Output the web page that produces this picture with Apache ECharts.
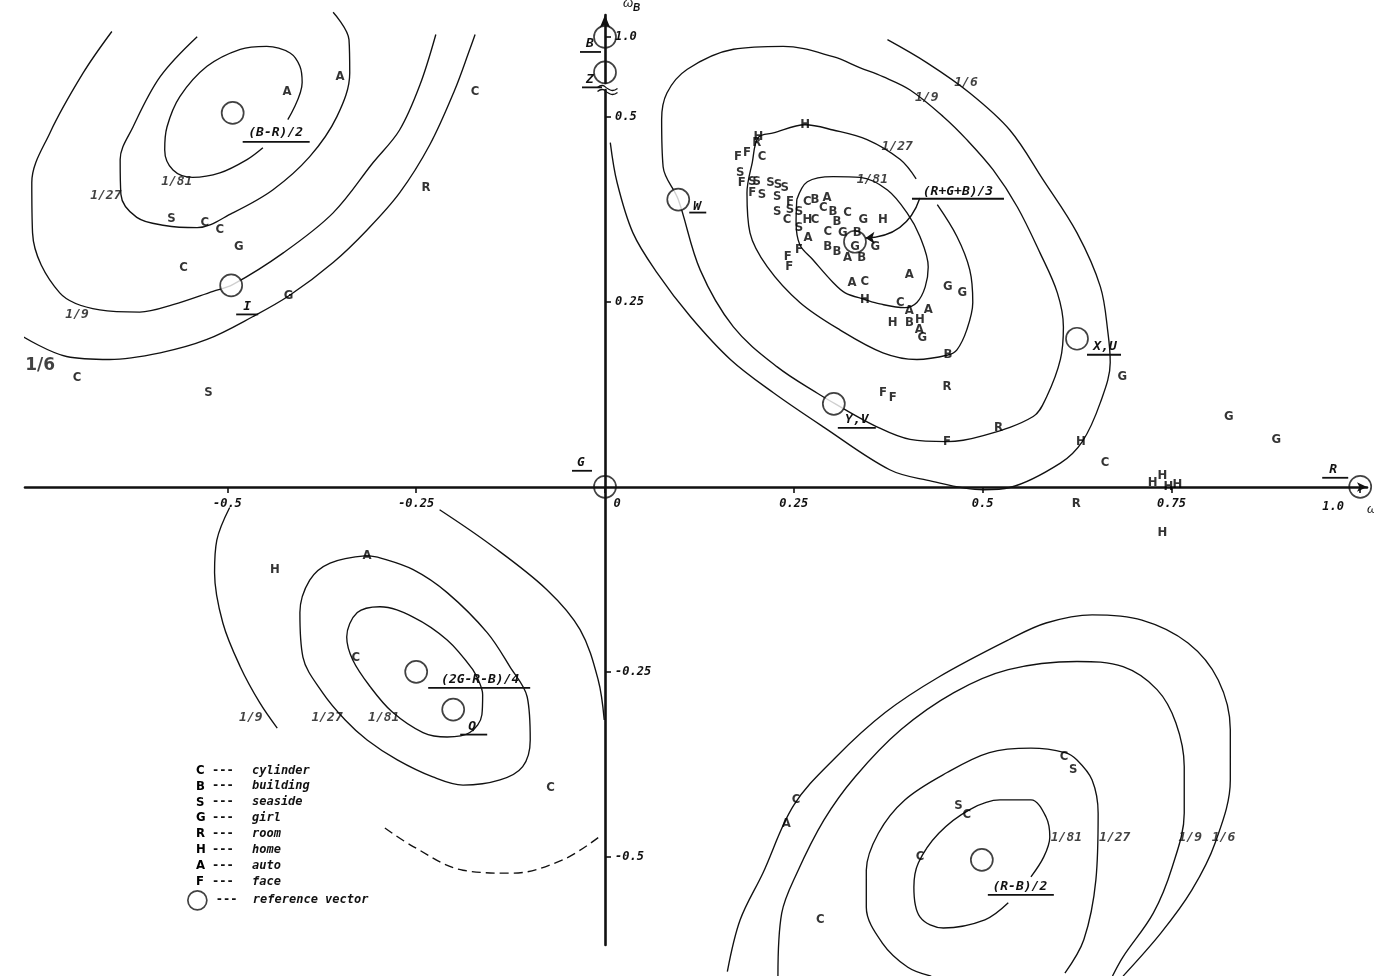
<!DOCTYPE html>
<html>
<head>
<meta charset="utf-8">
<title>Reference vectors and contours</title>
<script src="https://cdn.jsdelivr.net/npm/echarts@6.0.0/dist/echarts.min.js"></script>
<style>
html,body{margin:0;padding:0;background:#fff;}
#chart{width:1374px;height:976px;}
</style>
</head>
<body>
<div id="chart"></div>
<script>
// ---- tick values ----
const xTicks = [-0.5, -0.25, 0, 0.25, 0.5, 0.75, 1.0];
const yTicks = [-0.5, -0.25, 0.25, 0.5];
const yTicksTop = [1.0];

// ---- sample letters ----
const cylinderPts = [[-0.172,0.534],[-0.530,0.357],[-0.510,0.347],[-0.558,0.296],[-0.699,0.147],
  [0.208,0.446],[0.268,0.385],[0.241,0.361],[0.278,0.361],[0.289,0.377],[0.321,0.370],[0.295,0.345],
  [0.344,0.277],[0.391,0.249],[0.662,0.032],[-0.330,-0.231],[-0.072,-0.407],
  [0.253,-0.423],[0.608,-0.365],[0.479,-0.443],[0.417,-0.500],[0.285,-0.585]];
const buildingPts = [[0.278,0.388],[0.302,0.372],[0.307,0.358],[0.334,0.343],[0.295,0.324],
  [0.307,0.318],[0.340,0.309],[0.403,0.222],[0.454,0.178]];
const seasidePts = [[-0.574,0.362],[-0.525,0.127],[0.179,0.424],[0.195,0.412],[0.201,0.412],
  [0.208,0.395],[0.219,0.411],[0.229,0.408],[0.238,0.404],[0.228,0.392],[0.228,0.372],[0.245,0.374],
  [0.257,0.372],[0.257,0.350],[0.620,-0.382],[0.468,-0.431]];
const girlPts = [[-0.485,0.324],[-0.419,0.258],[0.342,0.361],[0.315,0.343],[0.331,0.324],[0.358,0.324],
  [0.420,0.201],[0.454,0.270],[0.473,0.262],[0.685,0.149],[0.826,0.095],[0.889,0.064]];
const roomPts = [[-0.237,0.404],[0.201,0.465],[0.453,0.135],[0.521,0.080],[0.624,-0.023]];
const homePts = [[0.203,0.473],[0.265,0.489],[0.268,0.361],[0.368,0.361],[0.344,0.253],[0.381,0.222],
  [0.417,0.226],[0.630,0.061],[0.725,0.005],[0.738,0.015],[0.746,0.000],[0.758,0.003],[0.738,-0.062],
  [-0.437,-0.112]];
const autoPts = [[-0.421,0.534],[-0.351,0.554],[0.294,0.391],[0.269,0.336],[0.321,0.309],[0.403,0.286],
  [0.327,0.276],[0.403,0.238],[0.428,0.239],[0.416,0.212],[-0.315,-0.093],[0.240,-0.455]];
const facePts = [[0.176,0.446],[0.188,0.451],[0.181,0.411],[0.195,0.397],[0.245,0.385],[0.257,0.320],
  [0.242,0.311],[0.244,0.297],[0.368,0.127],[0.381,0.120],[0.453,0.061]];

const categories = [
  {name: 'cylinder', letter: 'C', pts: cylinderPts},
  {name: 'building', letter: 'B', pts: buildingPts},
  {name: 'seaside', letter: 'S', pts: seasidePts},
  {name: 'girl', letter: 'G', pts: girlPts},
  {name: 'room', letter: 'R', pts: roomPts},
  {name: 'home', letter: 'H', pts: homePts},
  {name: 'auto', letter: 'A', pts: autoPts},
  {name: 'face', letter: 'F', pts: facePts}
];

// ---- reference vectors ----
const refNames = ['(B-R)/2','I','W','Y,V','X,U','(R+G+B)/3','(2G-R-B)/4','Q','(R-B)/2','G','R'];
const refPoints = [[-0.493,0.505],[-0.495,0.272],[0.097,0.388],[0.303,0.112],[0.625,0.200],
  [0.331,0.331],[-0.250,-0.250],[-0.201,-0.301],[0.499,-0.504],[0,0],[1.0,0]];
const refNamesTop = ['B','Z'];
const refPointsTop = [[0,1.0],[0,0.95]];
const onAxisRefs = ['G','R','B','Z','(R+G+B)/3'];

// arrow from (R+G+B)/3 label to its circle
const arrowCoords = [[0.417,0.390],[0.345,0.336]];

// ---- contours (top-right family, around (R+G+B)/3) ----
const trC81 = [[0.254,0.388],[0.268,0.412],[0.302,0.419],[0.338,0.418],[0.374,0.401],[0.400,0.370],
  [0.417,0.338],[0.428,0.297],[0.424,0.270],[0.413,0.249],[0.397,0.242],[0.364,0.247],[0.344,0.253],
  [0.318,0.262],[0.302,0.276],[0.275,0.307],[0.258,0.327],[0.253,0.358],[0.254,0.388]];
const trC27 = [[0.440,0.381],[0.466,0.338],[0.483,0.293],[0.487,0.249],[0.479,0.212],[0.466,0.185],
  [0.454,0.178],[0.413,0.172],[0.368,0.181],[0.311,0.212],[0.258,0.249],[0.215,0.297],[0.192,0.343],
  [0.188,0.397],[0.195,0.438],[0.203,0.472],[0.223,0.478],[0.265,0.489],[0.302,0.482],[0.347,0.469],
  [0.391,0.442],[0.412,0.416]];
const trC9 = [[0.305,0.112],[0.360,0.081],[0.404,0.064],[0.453,0.061],[0.497,0.068],[0.567,0.095],
  [0.585,0.122],[0.603,0.172],[0.607,0.216],[0.599,0.262],[0.576,0.316],[0.546,0.378],[0.514,0.428],
  [0.479,0.469],[0.448,0.500],[0.404,0.536],[0.368,0.554],[0.338,0.566],[0.302,0.581],[0.236,0.595],
  [0.170,0.591],[0.109,0.564],[0.082,0.532],[0.075,0.496],[0.077,0.432],[0.097,0.388],[0.126,0.293],
  [0.170,0.216],[0.228,0.162],[0.285,0.124],[0.305,0.112]];
const trC6 = [[0.374,0.604],[0.426,0.573],[0.483,0.532],[0.536,0.482],[0.580,0.415],[0.625,0.343],
  [0.656,0.270],[0.666,0.208],[0.669,0.168],[0.656,0.114],[0.632,0.061],[0.603,0.032],[0.536,-0.001],
  [0.501,-0.004],[0.426,0.009],[0.377,0.023],[0.289,0.081],[0.223,0.127],[0.166,0.172],[0.113,0.230],
  [0.069,0.289],[0.037,0.343],[0.016,0.411],[0.007,0.465]];

// top-left family, around (B-R)/2
const tlC81 = [[-0.420,0.496],[-0.401,0.546],[-0.404,0.568],[-0.417,0.586],[-0.448,0.595],[-0.483,0.591],
  [-0.527,0.568],[-0.563,0.527],[-0.580,0.486],[-0.583,0.455],[-0.572,0.428],[-0.546,0.418],
  [-0.510,0.424],[-0.474,0.442],[-0.453,0.458]];
const tlC27 = [[-0.540,0.608],[-0.589,0.554],[-0.625,0.486],[-0.642,0.442],[-0.641,0.395],[-0.620,0.364],
  [-0.583,0.353],[-0.540,0.350],[-0.493,0.370],[-0.440,0.401],[-0.391,0.446],[-0.355,0.500],
  [-0.338,0.559],[-0.339,0.604],[-0.360,0.641]];
const tlC9 = [[-0.653,0.615],[-0.691,0.559],[-0.735,0.478],[-0.759,0.411],[-0.758,0.343],[-0.722,0.262],
  [-0.669,0.239],[-0.616,0.236],[-0.572,0.246],[-0.519,0.264],[-0.493,0.273],[-0.426,0.316],
  [-0.360,0.370],[-0.307,0.438],[-0.272,0.482],[-0.245,0.543],[-0.224,0.611]];
const tlC6 = [[-0.771,0.203],[-0.713,0.176],[-0.656,0.172],[-0.589,0.181],[-0.527,0.199],[-0.466,0.230],
  [-0.417,0.259],[-0.360,0.303],[-0.315,0.347],[-0.272,0.397],[-0.232,0.462],[-0.199,0.536],
  [-0.179,0.591],[-0.172,0.611]];

// bottom-left family, around (2G-R-B)/4
const blC81 = [[-0.175,-0.247],[-0.209,-0.207],[-0.254,-0.176],[-0.298,-0.162],[-0.328,-0.170],
  [-0.342,-0.203],[-0.334,-0.234],[-0.311,-0.270],[-0.282,-0.304],[-0.241,-0.332],[-0.209,-0.338],
  [-0.179,-0.332],[-0.163,-0.308],[-0.162,-0.281],[-0.175,-0.247]];
const blC27 = [[-0.315,-0.093],[-0.364,-0.103],[-0.391,-0.126],[-0.404,-0.170],[-0.400,-0.230],
  [-0.374,-0.278],[-0.344,-0.315],[-0.315,-0.342],[-0.275,-0.369],[-0.228,-0.392],[-0.188,-0.403],
  [-0.139,-0.396],[-0.109,-0.378],[-0.099,-0.342],[-0.103,-0.284],[-0.126,-0.243],[-0.156,-0.197],
  [-0.209,-0.143],[-0.254,-0.112],[-0.298,-0.096],[-0.315,-0.093]];
const blC9Left = [[-0.497,-0.028],[-0.514,-0.072],[-0.517,-0.116],[-0.506,-0.184],[-0.483,-0.243],
  [-0.457,-0.292],[-0.434,-0.326]];
const blC9Right = [[-0.219,-0.031],[-0.152,-0.078],[-0.077,-0.139],[-0.033,-0.193],[-0.009,-0.261],
  [-0.001,-0.315]];
const blC9Bottom = [[-0.009,-0.474],[-0.056,-0.504],[-0.122,-0.522],[-0.188,-0.518],[-0.254,-0.486],
  [-0.294,-0.459]];

// bottom-right family, around (R-B)/2
const brC81 = [[0.564,-0.527],[0.581,-0.500],[0.589,-0.473],[0.584,-0.446],[0.564,-0.423],[0.523,-0.423],
  [0.483,-0.436],[0.442,-0.468],[0.415,-0.508],[0.409,-0.541],[0.417,-0.581],[0.448,-0.596],
  [0.503,-0.585],[0.534,-0.562]];
const brC27 = [[0.609,-0.657],[0.634,-0.612],[0.650,-0.531],[0.653,-0.441],[0.645,-0.396],[0.625,-0.369],
  [0.609,-0.359],[0.564,-0.353],[0.509,-0.359],[0.453,-0.386],[0.397,-0.423],[0.362,-0.468],
  [0.346,-0.518],[0.346,-0.568],[0.367,-0.616],[0.401,-0.649],[0.432,-0.661]];
const brC9 = [[0.229,-0.661],[0.234,-0.576],[0.254,-0.522],[0.290,-0.450],[0.331,-0.392],[0.392,-0.328],
  [0.462,-0.278],[0.534,-0.247],[0.625,-0.236],[0.686,-0.243],[0.731,-0.274],[0.756,-0.319],
  [0.767,-0.378],[0.767,-0.441],[0.751,-0.514],[0.726,-0.576],[0.686,-0.635],[0.672,-0.661]];
const brC6 = [[0.162,-0.655],[0.179,-0.585],[0.209,-0.522],[0.250,-0.430],[0.306,-0.365],[0.371,-0.305],
  [0.442,-0.257],[0.534,-0.207],[0.584,-0.184],[0.645,-0.173],[0.711,-0.180],[0.772,-0.211],
  [0.812,-0.261],[0.828,-0.328],[0.828,-0.396],[0.808,-0.481],[0.777,-0.545],[0.736,-0.603],
  [0.686,-0.661]];

// contour level labels
const levelText = ['1/81','1/27','1/9','1/6', '1/81','1/27','1/9','1/6', '1/9','1/27','1/81', '1/81','1/27','1/9','1/6'];
const levelPos = [[-0.567,0.412],[-0.661,0.393],[-0.699,0.232],[-0.748,0.164],
  [0.354,0.415],[0.387,0.459],[0.426,0.526],[0.478,0.546],
  [-0.469,-0.312],[-0.368,-0.312],[-0.293,-0.312],
  [0.611,-0.474],[0.675,-0.474],[0.775,-0.474],[0.819,-0.474]];

// ---- styles ----
const INK = '#111';
const MONO = "'DejaVu Sans Mono','Liberation Mono',monospace";
const LETTER_FONT = "'DejaVu Sans Condensed','Liberation Sans Narrow','DejaVu Sans',sans-serif";
// label offsets in px: [textDx, textDy, underlineX1, underlineX2, underlineDy]
const refLabelOffsets = {
  '(B-R)/2': [43, 20, 10, 77, 29],
  'I': [16, 21, 5, 27, 29],
  'W': [19, 7, 11, 28, 13],
  'Y,V': [23, 16, 4, 42, 24],
  'X,U': [28, 8, 10, 44, 16],
  '(R+G+B)/3': [103, -50, 57, 149, -43],
  '(2G-R-B)/4': [64, 8, 12, 114, 16],
  'Q': [19, 17, 7, 34, 25],
  '(R-B)/2': [38, 27, 6, 72, 35],
  'G': [-24, -24, -33, -13, -16],
  'R': [-27, -17, -38, -12, -9],
  'B': [-15, 7, -25, -4, 15],
  'Z': [-15, 7, -23, -3, 15]
};

function contour(pts, dashed) {
  return {
    type: 'line', data: pts, smooth: 0.35, symbol: 'none', clip: false, silent: true, z: 3,
    lineStyle: {color: INK, width: 1.35, type: dashed ? [9, 5] : 'solid'}
  };
}

function letterSeries(cat) {
  return {
    name: cat.name, type: 'scatter', data: cat.pts, symbolSize: 1, clip: false, silent: true, z: 6,
    itemStyle: {color: 'rgba(0,0,0,0)'},
    label: {show: true, position: 'inside', formatter: cat.letter, color: '#000',
      fontFamily: LETTER_FONT, fontWeight: 'bold', fontSize: 13}
  };
}

function refCircles(name, names, pts, axisIdx) {
  return {
    name: name, type: 'scatter', xAxisIndex: axisIdx, yAxisIndex: axisIdx, clip: false, silent: true, z: 5,
    symbol: 'circle', symbolSize: 22,
    data: pts.map(function(p, i) {
      let open = onAxisRefs.indexOf(names[i]) >= 0;
      return {value: p, itemStyle: {color: open ? 'rgba(0,0,0,0)' : '#fff', borderColor: INK, borderWidth: 1.7}};
    })
  };
}

function refLabels(names, pts, axisIdx) {
  return {
    type: 'custom', xAxisIndex: axisIdx, yAxisIndex: axisIdx, clip: false, silent: true, z: 7,
    data: pts.map(function(p, i) { return [p[0], p[1], i]; }),
    renderItem: function(params, api) {
      let name = names[api.value(2)];
      let c = api.coord([api.value(0), api.value(1)]);
      let o = refLabelOffsets[name];
      return {type: 'group', children: [
        {type: 'text', x: c[0] + o[0], y: c[1] + o[1],
          style: {text: name, fill: INK, font: 'italic bold 13px ' + MONO, align: 'center', verticalAlign: 'middle'}},
        {type: 'line', shape: {x1: c[0] + o[2], y1: c[1] + o[4], x2: c[0] + o[3], y2: c[1] + o[4]},
          style: {stroke: INK, lineWidth: 1.8}}
      ]};
    }
  };
}

const monoLabel = {color: INK, fontFamily: MONO, fontStyle: 'italic', fontWeight: 'bold', fontSize: 13};

let series = [
  contour(trC81), contour(trC27), contour(trC9), contour(trC6),
  contour(tlC81), contour(tlC27), contour(tlC9), contour(tlC6),
  contour(blC81), contour(blC27), contour(blC9Left), contour(blC9Right), contour(blC9Bottom, true),
  contour(brC81), contour(brC27), contour(brC9), contour(brC6),
  {
    type: 'scatter', symbolSize: 1, clip: false, silent: true, z: 6, itemStyle: {color: 'rgba(0,0,0,0)'},
    data: levelPos.map(function(p, i) {
      let item = {value: p, name: levelText[i]};
      // the outer label of the top-left family is printed larger and upright
      if (i === 3) item.label = {fontSize: 17, fontStyle: 'normal', fontFamily: "'DejaVu Sans',sans-serif"};
      return item;
    }),
    label: Object.assign({show: true, position: 'inside', formatter: '{b}'}, monoLabel)
  },
  {
    type: 'lines', coordinateSystem: 'cartesian2d', silent: true, z: 6,
    symbol: ['none', 'arrow'], symbolSize: 9,
    lineStyle: {color: INK, width: 1.4, curveness: 0.35, opacity: 1},
    data: [{coords: arrowCoords}]
  },
  refCircles('reference vector', refNames, refPoints, 0),
  refCircles('reference vector', refNamesTop, refPointsTop, 1),
  refLabels(refNames, refPoints, 0),
  refLabels(refNamesTop, refPointsTop, 1)
];
categories.forEach(function(c) { series.push(letterSeries(c)); });

let letterOf = {};
categories.forEach(function(c) { letterOf[c.name] = c.letter; });

const legendRich = {
  l: {width: 16, lineHeight: 12, fontFamily: LETTER_FONT, fontWeight: 'bold', fontSize: 13, color: '#000'},
  d: {width: 40, lineHeight: 12, fontFamily: MONO, fontWeight: 'bold', fontSize: 12, color: INK},
  n: {lineHeight: 12, fontFamily: MONO, fontStyle: 'italic', fontWeight: 'bold', fontSize: 12, color: INK}
};
const tickFont = {color: INK, fontFamily: MONO, fontStyle: 'italic', fontWeight: 'bold', fontSize: 12};

let chart = echarts.init(document.getElementById('chart'), null, {renderer: 'canvas'});
let option = {
  backgroundColor: '#fff',
  animation: false,
  grid: [
    {left: 25, right: 7, top: 90, bottom: 31, containLabel: false, outerBoundsMode: 'none'},
    {left: 25, right: 7, top: 15, height: 68, containLabel: false, outerBoundsMode: 'none'}
  ],
  xAxis: [
    {
      type: 'value', gridIndex: 0, min: -0.768, max: 1.009, position: 'bottom', offset: -458,
      name: '{w|ω}{s|R}', nameLocation: 'end', nameGap: 0,
      nameTextStyle: {align: 'left', verticalAlign: 'top', padding: [16, 0, 0, 0],
        rich: {w: {fontSize: 13, color: INK, fontStyle: 'italic'}, s: {fontSize: 9, color: INK}}},
      axisLine: {onZero: false, symbol: ['none', 'arrow'], symbolSize: [7, 10], lineStyle: {color: INK, width: 2.6}},
      axisTick: {show: true, customValues: xTicks, length: 6, lineStyle: {color: INK, width: 1.6}},
      axisLabel: Object.assign({
        customValues: xTicks, margin: 11,
        formatter: function(v) {
          if (v === 0) return '{z|0}';
          if (v === 1) return '{e|1.0}';
          return String(v);
        },
        rich: {
          z: Object.assign({padding: [0, 0, 0, 24]}, tickFont),
          e: Object.assign({padding: [3, 54, 0, 0]}, tickFont)
        }
      }, tickFont),
      splitLine: {show: false}
    },
    {
      type: 'value', gridIndex: 1, min: -0.768, max: 1.009,
      axisLine: {show: false}, axisTick: {show: false}, axisLabel: {show: false}, splitLine: {show: false}
    }
  ],
  yAxis: [
    {
      type: 'value', gridIndex: 0, min: -0.619, max: 0.536, position: 'left', offset: -580,
      axisLine: {onZero: false, lineStyle: {color: INK, width: 2.6}},
      axisTick: {show: true, customValues: yTicks, length: 6, inside: true, lineStyle: {color: INK, width: 1.6}},
      axisLabel: Object.assign({
        customValues: yTicks, inside: true, margin: 10,
        formatter: function(v) { return String(v); },
        padding: [12, 0, 0, 0]
      }, tickFont),
      splitLine: {show: false}
    },
    {
      type: 'value', gridIndex: 1, min: 0.935, max: 1.031, position: 'left', offset: -580,
      name: '{w|ω}{s|B}', nameLocation: 'end', nameGap: 2,
      nameTextStyle: {align: 'left', padding: [0, 0, 0, 18],
        rich: {w: {fontSize: 13, color: INK, fontStyle: 'italic'},
          s: {fontSize: 10, color: INK, fontStyle: 'italic', fontWeight: 'bold', padding: [10, 0, 0, 0]}}},
      axisLine: {onZero: false, symbol: ['none', 'arrow'], symbolSize: [8, 13], lineStyle: {color: INK, width: 2.6}},
      axisTick: {show: true, customValues: yTicksTop, length: 6, inside: true, lineStyle: {color: INK, width: 1.6}},
      axisLabel: Object.assign({
        customValues: yTicksTop, inside: true, margin: 10,
        formatter: function() { return '1.0'; },
        padding: [16, 0, 0, 0]
      }, tickFont),
      splitLine: {show: false}
    }
  ],
  legend: [
    {
      data: categories.map(function(c) { return {name: c.name, icon: 'none'}; }),
      orient: 'vertical', left: 191, top: 764, padding: 0, itemWidth: 0, itemHeight: 12, itemGap: 2.86,
      selectedMode: false,
      formatter: function(name) { return '{l|' + letterOf[name] + '}{d|---}{n|' + name + '}'; },
      textStyle: {rich: legendRich}
    },
    {
      data: [{name: 'reference vector', icon: 'circle',
        itemStyle: {color: 'rgba(0,0,0,0)', borderColor: INK, borderWidth: 1.7}}],
      left: 187, top: 890, padding: 0, itemWidth: 19, itemHeight: 19, selectedMode: false,
      formatter: '{d|---}{n|reference vector}',
      textStyle: {rich: {d: {width: 37, padding: [0, 0, 0, 4], fontFamily: MONO, fontWeight: 'bold', fontSize: 12, color: INK}, n: legendRich.n}}
    }
  ],
  graphic: [
    {type: 'polyline', left: 595, top: 83, shape: {points: [[0, 2], [5, 0], [10, 3], [15, 5], [20, 3]], smooth: 0.5},
      style: {stroke: INK, lineWidth: 1.3, fill: null}},
    {type: 'polyline', left: 595, top: 87, shape: {points: [[0, 2], [5, 0], [10, 3], [15, 5], [20, 3]], smooth: 0.5},
      style: {stroke: INK, lineWidth: 1.3, fill: null}}
  ],
  series: series
};
chart.setOption(option);
</script>
</body>
</html>
